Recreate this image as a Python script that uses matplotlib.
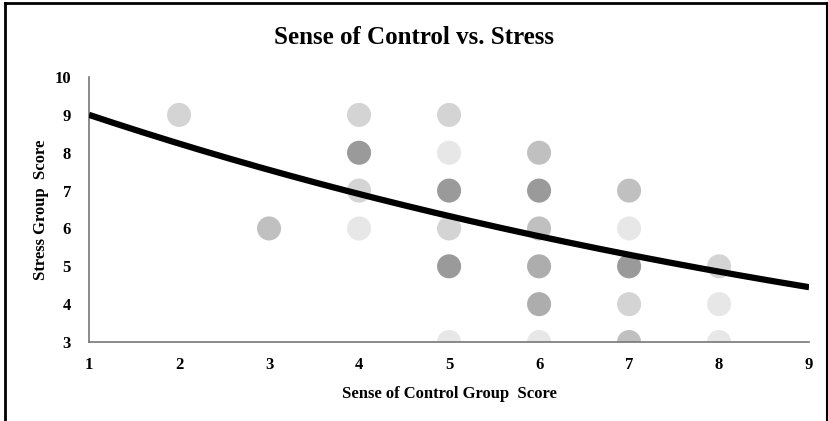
import numpy as np
import matplotlib.pyplot as plt
from matplotlib.lines import Line2D

# responses grouped by (control score, stress score); count = overlapping respondents
control = [2, 3, 4, 4, 4, 4, 5, 5, 5, 5, 5, 5, 6, 6, 6, 6, 6, 6, 7, 7, 7, 7, 7, 8, 8, 8]
stress  = [9, 6, 9, 8, 7, 6, 9, 8, 7, 6, 5, 3, 8, 7, 6, 5, 4, 3, 7, 6, 5, 4, 3, 5, 4, 3]
count   = [2, 3, 2, 5, 2, 1, 2, 1, 5, 2, 5, 1, 3, 5, 3, 4, 4, 1, 3, 1, 5, 2, 3, 2, 1, 1]

# exponential trend line y = a * exp(b * x)
trend_a = 9.83
trend_b = -0.0881

x_ticks = [1, 2, 3, 4, 5, 6, 7, 8, 9]
y_ticks = [3, 4, 5, 6, 7, 8, 9, 10]

plt.rcParams['font.family'] = ['Liberation Serif', 'DejaVu Serif']
plt.rcParams['font.weight'] = 'bold'

fig = plt.figure(figsize=(8.29, 4.21), dpi=100)
ax = fig.add_axes([0.1074, 0.1876, 0.8686, 0.6294])

# darker where more respondents overlap
alphas = [0.02 + 0.11 * c for c in count]
colors = [(0.3, 0.3, 0.3, a) for a in alphas]
ax.scatter(control, stress, s=300, c=colors, edgecolors='none', zorder=2)

xs = np.linspace(1, 9, 200)
ax.plot(xs, trend_a * np.exp(trend_b * xs), color='black', lw=4.5, zorder=3,
        solid_capstyle='butt')

ax.set_xlim(1, 9)
ax.set_ylim(3, 10)
ax.set_xticks(x_ticks)
ax.set_yticks(y_ticks)
ax.tick_params(length=0, labelsize=12)
ax.tick_params(axis='x', pad=11)
ax.tick_params(axis='y', pad=13)
for s in ['top', 'right']:
    ax.spines[s].set_visible(False)
for s in ['left', 'bottom']:
    ax.spines[s].set_color('#777777')
    ax.spines[s].set_linewidth(1.2)

ax.set_xlabel('Sense of Control Group  Score', fontsize=12, fontweight='bold', labelpad=9)
ax.set_ylabel('Stress Group  Score', fontsize=12, fontweight='bold', labelpad=4)
fig.text(0.5, 0.912, 'Sense of Control vs. Stress', ha='center', va='center',
         fontsize=18, fontweight='bold')

# outer chart border (left, top, right)
fig.add_artist(Line2D([0.006, 0.006], [0, 0.993], transform=fig.transFigure, color='black', lw=2))
fig.add_artist(Line2D([0.006, 0.997], [0.993, 0.993], transform=fig.transFigure, color='black', lw=2))
fig.add_artist(Line2D([0.997, 0.997], [0, 0.993], transform=fig.transFigure, color='black', lw=1.5))

fig.savefig('out.png', dpi=100)
